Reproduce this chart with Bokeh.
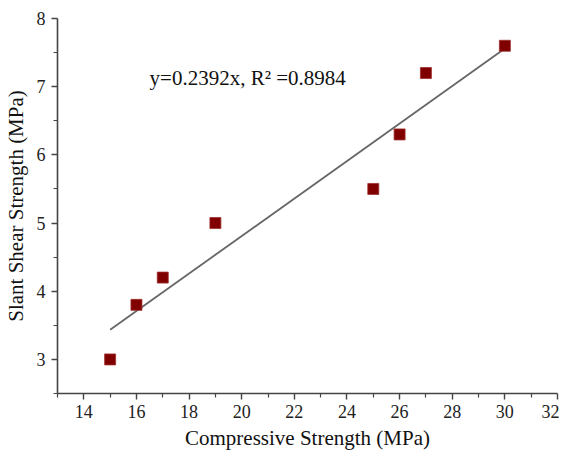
import numpy as np
from bokeh.plotting import figure
from bokeh.models import Range1d, Label, FixedTicker
from bokeh.embed import file_html
from bokeh.resources import INLINE

compressive = [15, 16, 17, 19, 25, 26, 27, 30]
slant_shear = [3.0, 3.8, 4.2, 5.0, 5.5, 6.3, 7.2, 7.6]
x_ticks = [14, 16, 18, 20, 22, 24, 26, 28, 30, 32]
x_minor = [13, 15, 17, 19, 21, 23, 25, 27, 29, 31]
y_ticks = [3, 4, 5, 6, 7, 8]
y_minor = [2.5, 3.5, 4.5, 5.5, 6.5, 7.5]
equation_text = "y=0.2392x, R\u00b2 =0.8984"

FONT = "Liberation Serif"

p = figure(width=559, height=452, output_backend="svg", toolbar_location=None,
           x_range=Range1d(13, 32), y_range=Range1d(2.5, 8),
           min_border_left=44, min_border_right=2, min_border_top=18, min_border_bottom=10)
p.outline_line_color = None
p.grid.grid_line_color = None
p.background_fill_color = "white"

for ax in (p.xaxis[0], p.yaxis[0]):
    ax.axis_line_color = "#444444"
    ax.axis_line_width = 1.6
    ax.major_tick_line_color = "#444444"
    ax.minor_tick_line_color = "#444444"
    ax.major_tick_line_width = 1.4
    ax.minor_tick_line_width = 1.2
    ax.major_tick_in = 0
    ax.major_tick_out = 6
    ax.minor_tick_in = 0
    ax.minor_tick_out = 4
    ax.major_label_text_font = FONT
    ax.major_label_text_font_size = "18px"
    ax.major_label_text_color = "#222222"
    ax.axis_label_text_font = FONT
    ax.axis_label_text_font_size = "21px"
    ax.axis_label_text_font_style = "normal"
    ax.axis_label_text_color = "#111111"

p.xaxis.ticker = FixedTicker(ticks=x_ticks, minor_ticks=x_minor)
p.yaxis.ticker = FixedTicker(ticks=y_ticks, minor_ticks=y_minor)
p.xaxis.axis_label = "Compressive Strength (MPa)"
p.yaxis.axis_label = "Slant Shear Strength (MPa)"
p.xaxis.major_label_standoff = 5
p.xaxis.axis_label_standoff = 5
p.yaxis.major_label_standoff = 6
p.yaxis.axis_label_standoff = 6

# regression line from data
xa = np.array(compressive, dtype=float)
ya = np.array(slant_shear, dtype=float)
slope, intercept = np.polyfit(xa, ya, 1)
lx = np.array([xa.min(), xa.max()])
p.line(lx, slope * lx + intercept, line_color="#666666", line_width=1.8)

p.scatter(compressive, slant_shear, marker="square", size=11,
          fill_color="#800000", line_color="#a03030", line_width=0.8)

p.add_layout(Label(x=16.5, y=7.13, text=equation_text, text_font=FONT,
                   text_font_size="21px", text_color="#111111",
                   text_baseline="middle", text_align="left"))

open("out.html", "w").write(file_html(p, INLINE))
